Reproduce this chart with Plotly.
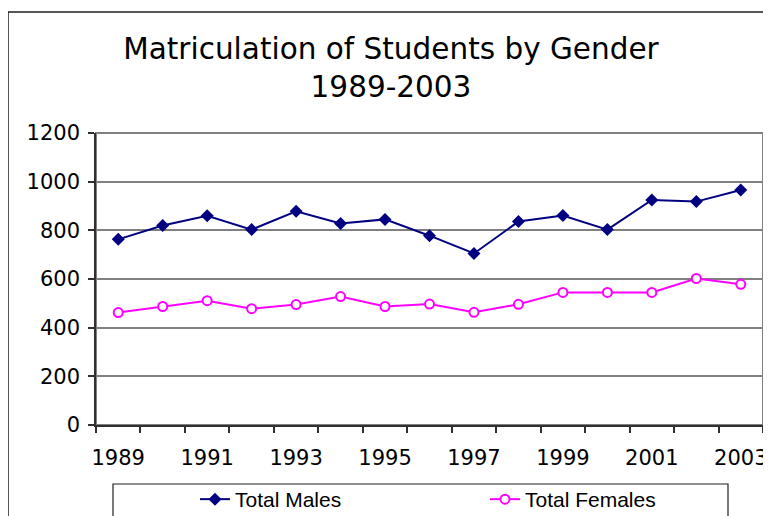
import plotly.graph_objects as go

years = [1989, 1990, 1991, 1992, 1993, 1994, 1995, 1996, 1997, 1998, 1999, 2000, 2001, 2002, 2003]
males = [763, 820, 860, 803, 878, 828, 845, 778, 705, 836, 861, 803, 925, 918, 966]
females = [462, 487, 511, 478, 495, 528, 487, 497, 463, 496, 545, 545, 545, 602, 578]
tick_labels = ["1989", "1991", "1993", "1995", "1997", "1999", "2001", "2003"]
tick_years = [1989, 1991, 1993, 1995, 1997, 1999, 2001, 2003]
y_ticks = [0, 200, 400, 600, 800, 1000, 1200]

fig = go.Figure()
fig.add_trace(go.Scatter(
    x=years, y=males, name="Total Males", mode="lines+markers",
    line=dict(color="#000080", width=2),
    marker=dict(symbol="diamond", size=10, color="#000080"),
))
fig.add_trace(go.Scatter(
    x=years, y=females, name="Total Females", mode="lines+markers",
    line=dict(color="#FF00FF", width=2),
    marker=dict(symbol="circle", size=9, color="white", line=dict(color="#FF00FF", width=2)),
))

# page body has an 8px margin: work in screen pixels and shift
OFF = 8
W, H = 771 - OFF, 516 - OFF
L, T = 96 - OFF, 133 - OFF
PR, PB = 763 - OFF, 425 - OFF
R, B = W - PR, H - PB
pw, ph = PR - L, PB - T

def px_x(p):
    return (p - OFF - L) / pw

def px_y(p):
    return (PB - (p - OFF)) / ph

shapes = [
    dict(type="rect", xref="paper", yref="paper", x0=0, x1=1, y0=0, y1=1,
         line=dict(color="#808080", width=2), layer="below"),
    dict(type="rect", xref="paper", yref="paper", x0=px_x(8), x1=px_x(800), y0=px_y(12), y1=px_y(560),
         line=dict(color="#202020", width=1.5), layer="below"),
    dict(type="rect", xref="paper", yref="paper", x0=px_x(113), x1=px_x(728), y0=px_y(484), y1=px_y(560),
         line=dict(color="#202020", width=1.2), layer="below"),
]

fig.update_layout(
    width=W, height=H,
    margin=dict(l=L, r=R, t=T, b=B, autoexpand=False),
    paper_bgcolor="white", plot_bgcolor="white",
    font=dict(family="DejaVu Sans", color="black"),
    title=dict(
        text="Matriculation of Students by Gender<br>1989-2003",
        x=(391 - OFF) / W, xanchor="center", xref="container",
        y=1 - 51 / H, yanchor="top", yref="container",
        font=dict(family="DejaVu Sans", size=29.5, color="black"),
    ),
    xaxis=dict(
        range=[1988.5, 2003.5],
        tickmode="array", tickvals=tick_years, ticktext=tick_labels,
        ticks="", showgrid=False, zeroline=False,
        showline=True, linecolor="#303030", linewidth=1.5,
        tickfont=dict(family="DejaVu Sans", size=21, color="black"),
        ticklabelstandoff=13,
        minor=dict(tickmode="array", tickvals=[y - 0.5 for y in years] + [2003.5],
                   ticks="outside", ticklen=6, tickcolor="#303030", tickwidth=1.5, showgrid=False),
    ),
    yaxis=dict(
        range=[0, 1200],
        tickmode="array", tickvals=y_ticks,
        ticks="outside", ticklen=6, tickcolor="#303030", tickwidth=1.5,
        showgrid=True, gridcolor="#808080", gridwidth=2,
        zeroline=False,
        showline=True, linecolor="#303030", linewidth=1.5,
        tickfont=dict(family="DejaVu Sans", size=21, color="black"),
        ticklabelstandoff=4,
    ),
    legend=dict(
        orientation="h", x=px_x(195), xanchor="left", y=px_y(479), yanchor="top",
        bgcolor="rgba(0,0,0,0)", borderwidth=0,
        font=dict(family="Liberation Sans", size=21, color="black"),
        entrywidth=245, entrywidthmode="pixels",
    ),
    shapes=shapes,
    showlegend=True,
)

fig.write_html("out.html")
